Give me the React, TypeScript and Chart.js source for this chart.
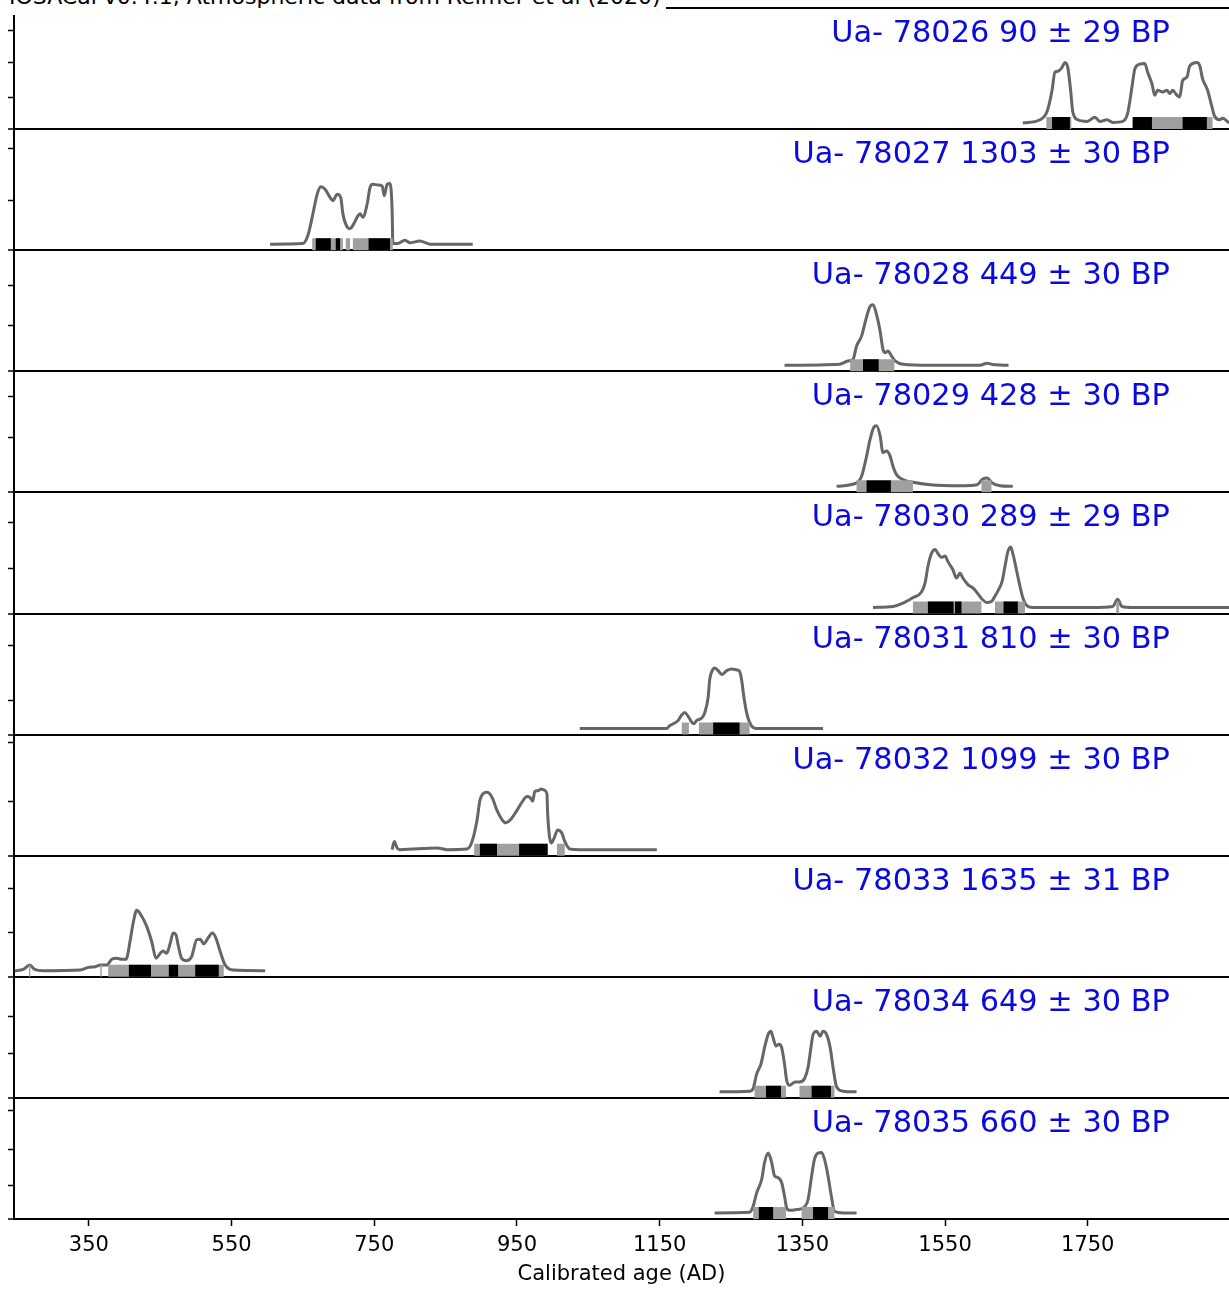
import React, { useEffect, useRef } from 'react';
import { Chart, registerables } from 'chart.js';

Chart.register(...registerables);

// ---------- data ----------
const TITLE = 'IOSACal v0.4.1, Atmospheric data from Reimer et al (2020)';
const X_LABEL = 'Calibrated age (AD)';
const X_TICKS = [350, 550, 750, 950, 1150, 1350, 1550, 1750];
const X_MIN = 245;
const X_MAX = 1948;

const LAB_IDS = ['Ua- 78026', 'Ua- 78027', 'Ua- 78028', 'Ua- 78029', 'Ua- 78030', 'Ua- 78031', 'Ua- 78032', 'Ua- 78033', 'Ua- 78034', 'Ua- 78035'];
const BP_AGES = [90, 1303, 449, 428, 289, 810, 1099, 1635, 649, 660];
const BP_ERRORS = [29, 30, 30, 30, 29, 30, 30, 31, 30, 30];

// calibrated probability curves (year AD, relative density)
const YEARS_78026 = [1659, 1683, 1693, 1700, 1704, 1708, 1714, 1718, 1722, 1726, 1729, 1736, 1749, 1760, 1767, 1777, 1785, 1799, 1806, 1812, 1816, 1823, 1830, 1834, 1840, 1844, 1848, 1855, 1861, 1865, 1869, 1875, 1879, 1883, 1889, 1893, 1903, 1907, 1911, 1918, 1924, 1928, 1935, 1939, 1948];
const DENS_78026 = [0, 0.054, 0.189, 0.541, 0.84, 0.854, 0.919, 1.0, 0.919, 0.541, 0.189, 0.054, 0.027, 0.097, 0.027, 0.054, 0.011, 0.027, 0.162, 0.595, 0.892, 0.973, 0.984, 0.838, 0.649, 0.459, 0.541, 0.514, 0.541, 0.486, 0.541, 0.459, 0.432, 0.703, 0.757, 0.946, 1.0, 0.946, 0.73, 0.541, 0.27, 0.108, 0.054, 0.081, 0.0];

const YEARS_78027 = [604, 650, 657, 663, 670, 675, 681, 688, 692, 698, 703, 706, 712, 716, 720, 726, 730, 734, 740, 744, 748, 755, 761, 764, 768, 772, 775, 776, 783, 793, 800, 814, 828, 856, 888];
const DENS_78027 = [0, 0.011, 0.147, 0.446, 0.826, 0.946, 0.908, 0.772, 0.717, 0.826, 0.772, 0.5, 0.283, 0.255, 0.31, 0.446, 0.5, 0.446, 0.663, 0.935, 0.989, 0.978, 0.962, 0.8, 0.989, 1.0, 0.554, 0.011, 0.011, 0.065, 0.022, 0.054, 0, 0, 0];

const YEARS_78028 = [1325, 1402, 1414, 1421, 1426, 1433, 1439, 1445, 1449, 1454, 1459, 1463, 1466, 1470, 1475, 1480, 1491, 1529, 1599, 1609, 1617, 1639];
const DENS_78028 = [0, 0.016, 0.071, 0.098, 0.317, 0.481, 0.754, 0.973, 1.0, 0.836, 0.563, 0.262, 0.208, 0.235, 0.153, 0.071, 0.016, 0, 0, 0.033, 0.011, 0];

const YEARS_78029 = [1398, 1426, 1433, 1439, 1445, 1450, 1454, 1459, 1463, 1468, 1473, 1477, 1482, 1491, 1505, 1529, 1571, 1595, 1603, 1609, 1616, 1627, 1645];
const DENS_78029 = [0, 0.056, 0.167, 0.444, 0.778, 0.972, 1.0, 0.833, 0.556, 0.583, 0.5, 0.333, 0.194, 0.111, 0.067, 0.028, 0.011, 0.028, 0.122, 0.139, 0.056, 0.011, 0];

const YEARS_78030 = [1449, 1477, 1491, 1505, 1517, 1522, 1526, 1531, 1536, 1540, 1545, 1550, 1554, 1561, 1566, 1571, 1575, 1582, 1589, 1595, 1602, 1609, 1616, 1620, 1624, 1630, 1634, 1638, 1642, 1645, 1651, 1655, 1659, 1665, 1673, 1757, 1785, 1792, 1798, 1813, 1948];
const DENS_78030 = [0, 0.016, 0.07, 0.162, 0.254, 0.405, 0.676, 0.892, 0.957, 0.892, 0.827, 0.849, 0.757, 0.622, 0.486, 0.568, 0.486, 0.378, 0.324, 0.243, 0.135, 0.081, 0.108, 0.189, 0.27, 0.432, 0.676, 0.919, 1.0, 0.892, 0.568, 0.351, 0.162, 0.027, 0, 0, 0.016, 0.135, 0.016, 0, 0];

const YEARS_78031 = [1038, 1160, 1164, 1171, 1176, 1181, 1185, 1190, 1195, 1198, 1202, 1209, 1213, 1218, 1220, 1225, 1227, 1232, 1237, 1244, 1251, 1258, 1262, 1265, 1268, 1272, 1279, 1286, 1379];
const DENS_78031 = [0, 0, 0.049, 0.092, 0.135, 0.227, 0.265, 0.2, 0.103, 0.081, 0.135, 0.173, 0.254, 0.524, 0.795, 0.984, 1.0, 0.957, 0.892, 0.957, 0.984, 0.968, 0.946, 0.795, 0.524, 0.254, 0.038, 0, 0];

const YEARS_78032 = [775, 778, 782, 786, 838, 852, 880, 887, 894, 898, 902, 908, 915, 922, 929, 934, 941, 950, 957, 964, 968, 972, 975, 979, 984, 988, 992, 993, 998, 1002, 1007, 1013, 1017, 1024, 1038, 1146];
const DENS_78032 = [0, 0.135, 0.027, 0, 0.027, 0, 0.011, 0.135, 0.486, 0.811, 0.919, 0.946, 0.865, 0.649, 0.497, 0.443, 0.497, 0.649, 0.784, 0.876, 0.865, 0.8, 0.962, 0.973, 1.0, 0.984, 0.919, 0.595, 0.108, 0.189, 0.324, 0.27, 0.135, 0.011, 0, 0];

const YEARS_78033 = [246, 258, 267, 274, 286, 338, 349, 359, 366, 375, 382, 389, 396, 402, 408, 412, 417, 424, 431, 438, 444, 450, 454, 459, 464, 468, 472, 475, 480, 487, 494, 501, 506, 511, 517, 523, 528, 534, 541, 552, 597];
const DENS_78033 = [0, 0.022, 0.094, 0.022, 0, 0.011, 0.056, 0.067, 0.094, 0.094, 0.189, 0.206, 0.189, 0.189, 0.511, 0.789, 1.0, 0.9, 0.733, 0.483, 0.206, 0.289, 0.328, 0.289, 0.456, 0.622, 0.594, 0.428, 0.206, 0.167, 0.233, 0.511, 0.522, 0.444, 0.539, 0.622, 0.539, 0.317, 0.094, 0.011, 0];

const YEARS_78034 = [1234, 1276, 1281, 1286, 1292, 1297, 1302, 1306, 1309, 1313, 1317, 1321, 1325, 1328, 1332, 1340, 1346, 1353, 1358, 1362, 1365, 1370, 1375, 1379, 1384, 1389, 1393, 1398, 1407, 1426];
const DENS_78034 = [0, 0.011, 0.054, 0.297, 0.459, 0.73, 0.946, 1.0, 0.892, 0.757, 0.784, 0.73, 0.459, 0.189, 0.108, 0.162, 0.162, 0.216, 0.405, 0.73, 0.946, 1.0, 0.919, 1.0, 0.946, 0.73, 0.405, 0.081, 0.011, 0];

const YEARS_78035 = [1227, 1276, 1281, 1286, 1293, 1297, 1302, 1307, 1311, 1316, 1321, 1325, 1328, 1332, 1342, 1351, 1358, 1363, 1367, 1372, 1377, 1381, 1386, 1391, 1395, 1407, 1426];
const DENS_78035 = [0, 0.011, 0.111, 0.333, 0.556, 0.833, 0.989, 0.833, 0.611, 0.583, 0.5, 0.278, 0.083, 0.044, 0.056, 0.083, 0.222, 0.611, 0.889, 0.989, 1.0, 0.889, 0.611, 0.25, 0.028, 0, 0];

// highest posterior density ranges (95 % grey, 68 % black)
const HPD95_78026 = [[1692, 1727], [1813, 1925]];
const HPD68_78026 = [[1700, 1725], [1813, 1840], [1883, 1917]];
const HPD95_78027 = [[663, 706], [710, 716], [720, 776]];
const HPD68_78027 = [[668, 689], [696, 702], [742, 772]];
const HPD95_78028 = [[1417, 1479]];
const HPD68_78028 = [[1435, 1457]];
const HPD95_78029 = [[1426, 1505], [1601, 1615]];
const HPD68_78029 = [[1440, 1474]];
const HPD95_78030 = [[1505, 1601], [1620, 1662], [1790, 1794]];
const HPD68_78030 = [[1526, 1562], [1564, 1573], [1632, 1652]];
const HPD95_78031 = [[1181, 1191], [1205, 1276]];
const HPD68_78031 = [[1225, 1262]];
const HPD95_78032 = [[890, 993], [1006, 1017]];
const HPD68_78032 = [[898, 922], [953, 993]];
const HPD95_78033 = [[266, 268], [366, 368], [377, 539]];
const HPD68_78033 = [[406, 437], [462, 475], [499, 532]];
const HPD95_78034 = [[1283, 1327], [1346, 1395]];
const HPD68_78034 = [[1299, 1320], [1363, 1390]];
const HPD95_78035 = [[1281, 1327], [1349, 1395]];
const HPD68_78035 = [[1289, 1309], [1365, 1386]];

// unlabeled density ticks of each panel (fraction of panel height)
const YTICKS_78026 = [0.264, 0.554, 0.818];
const YTICKS_78027 = [0.413, 0.843];
const YTICKS_78028 = [0.38, 0.711];
const YTICKS_78029 = [0.455, 0.793];
const YTICKS_78030 = [0.372, 0.752];
const YTICKS_78031 = [0.281, 0.736];
const YTICKS_78032 = [0.446, 0.934];
const YTICKS_78033 = [0.364, 0.727];
const YTICKS_78034 = [0.364, 0.669];
const YTICKS_78035 = [0.28, 0.57, 0.9];

const YEARS = [YEARS_78026, YEARS_78027, YEARS_78028, YEARS_78029, YEARS_78030, YEARS_78031, YEARS_78032, YEARS_78033, YEARS_78034, YEARS_78035];
const DENS = [DENS_78026, DENS_78027, DENS_78028, DENS_78029, DENS_78030, DENS_78031, DENS_78032, DENS_78033, DENS_78034, DENS_78035];
const HPD95 = [HPD95_78026, HPD95_78027, HPD95_78028, HPD95_78029, HPD95_78030, HPD95_78031, HPD95_78032, HPD95_78033, HPD95_78034, HPD95_78035];
const HPD68 = [HPD68_78026, HPD68_78027, HPD68_78028, HPD68_78029, HPD68_78030, HPD68_78031, HPD68_78032, HPD68_78033, HPD68_78034, HPD68_78035];
const YTICKS = [YTICKS_78026, YTICKS_78027, YTICKS_78028, YTICKS_78029, YTICKS_78030, YTICKS_78031, YTICKS_78032, YTICKS_78033, YTICKS_78034, YTICKS_78035];

// ---------- layout constants ----------
const N = LAB_IDS.length;
const BASE_OFF = 0.05; // baseline offset inside a panel
const PEAK_H = 0.5; // height of the max density inside a panel
const FONT = '"DejaVu Sans", "Liberation Sans", sans-serif';

function panelBase(i: number) {
  return N - 1 - i;
}

function rangesToPoints(ranges: number[][], y: number) {
  const pts: { x: number; y: number | null }[] = [];
  ranges.forEach(([a, b]) => {
    pts.push({ x: a, y });
    pts.push({ x: b, y });
    pts.push({ x: b, y: null });
  });
  return pts;
}

function buildDatasets() {
  const ds: any[] = [];
  for (let i = 0; i < N; i++) {
    const base = panelBase(i) + BASE_OFF;
    ds.push({
      label: LAB_IDS[i],
      data: YEARS[i].map((x, k) => ({ x, y: base + DENS[i][k] * PEAK_H })),
      borderColor: '#666666',
      borderWidth: 3,
      pointRadius: 0,
      cubicInterpolationMode: 'monotone',
      fill: false,
      order: 3,
    });
    ds.push({
      label: LAB_IDS[i] + ' 95%',
      data: rangesToPoints(HPD95[i], base),
      borderColor: '#a0a0a0',
      borderWidth: 12,
      borderCapStyle: 'butt',
      pointRadius: 0,
      spanGaps: false,
      fill: false,
      order: 2,
    });
    ds.push({
      label: LAB_IDS[i] + ' 68%',
      data: rangesToPoints(HPD68[i], base),
      borderColor: '#000000',
      borderWidth: 12,
      borderCapStyle: 'butt',
      pointRadius: 0,
      spanGaps: false,
      fill: false,
      order: 1,
    });
  }
  return ds;
}

const panelLabels = {
  id: 'panelLabels',
  afterDraw(chart: any) {
    const { ctx, chartArea, scales } = chart;
    ctx.save();
    ctx.font = `30.4px ${FONT}`;
    ctx.fillStyle = '#0a0ae0';
    ctx.textAlign = 'right';
    ctx.textBaseline = 'alphabetic';
    const x = chartArea.left + 0.9514 * (chartArea.right - chartArea.left);
    for (let i = 0; i < N; i++) {
      const top = scales.y.getPixelForValue(panelBase(i) + 1);
      ctx.fillText(`${LAB_IDS[i]} ${BP_AGES[i]} \u00b1 ${BP_ERRORS[i]} BP`, x, top + 34);
    }
    ctx.restore();
  },
};

function isBoundary(v: number) {
  return Math.abs(v - Math.round(v)) < 1e-9;
}

export default function App() {
  const ref = useRef<HTMLCanvasElement>(null);
  useEffect(() => {
    document.body.style.margin = '0';
    const yTickValues: number[] = [];
    for (let b = 0; b <= N; b++) yTickValues.push(b);
    for (let i = 0; i < N; i++) YTICKS[i].forEach((f) => yTickValues.push(panelBase(i) + f));
    yTickValues.sort((a, b) => a - b);

    const chart = new Chart(ref.current as HTMLCanvasElement, {
      type: 'line',
      data: { datasets: buildDatasets() },
      options: {
        animation: false,
        responsive: false,
        layout: { padding: { left: 8, top: 8, right: 0, bottom: 0 } },
        plugins: {
          legend: { display: false },
          tooltip: { enabled: false },
          title: { display: false },
        },
        scales: {
          x: {
            type: 'linear',
            min: X_MIN,
            max: X_MAX,
            afterBuildTicks: (s: any) => {
              s.ticks = X_TICKS.map((v) => ({ value: v }));
            },
            afterFit: (s: any) => {
              s.height = 70;
            },
            grid: { drawOnChartArea: false, drawTicks: true, tickLength: 7, tickColor: '#000', tickWidth: 1.5 },
            border: { display: true, color: '#000', width: 2 },
            ticks: {
              color: '#000',
              font: { family: FONT, size: 21 },
              padding: 7,
              maxRotation: 0,
              autoSkip: false,
              callback: (v: any) => String(v),
            },
            title: {
              display: true,
              text: X_LABEL,
              color: '#000',
              font: { family: FONT, size: 21 },
              padding: { top: 2, bottom: 2 },
            },
          },
          y: {
            type: 'linear',
            min: 0,
            max: N,
            afterBuildTicks: (s: any) => {
              s.ticks = yTickValues.map((v) => ({ value: v }));
            },
            ticks: { display: false },
            grid: {
              drawTicks: true,
              tickLength: 6,
              tickColor: '#000',
              tickWidth: 1.5,
              color: (c: any) => (c.tick && isBoundary(c.tick.value) ? '#000' : 'rgba(0,0,0,0)'),
              lineWidth: (c: any) => (c.tick && isBoundary(c.tick.value) ? 2 : 1),
            },
            border: { display: true, color: '#000', width: 2 },
          },
        },
      } as any,
      plugins: [panelLabels],
    });
    return () => chart.destroy();
  }, []);

  return (
    <div style={{ position: 'relative', width: 1229, height: 1289, overflow: 'hidden', background: '#fff' }}>
      <canvas ref={ref} width={1229} height={1289} style={{ display: 'block' }} />
      <div
        style={{
          position: 'absolute',
          left: 0,
          top: -14,
          padding: '0 5px 7px 9px',
          background: '#fff',
          fontFamily: FONT,
          fontSize: 22,
          lineHeight: '22px',
          whiteSpace: 'nowrap',
          color: '#000',
        }}
      >
        {TITLE}
      </div>
    </div>
  );
}
